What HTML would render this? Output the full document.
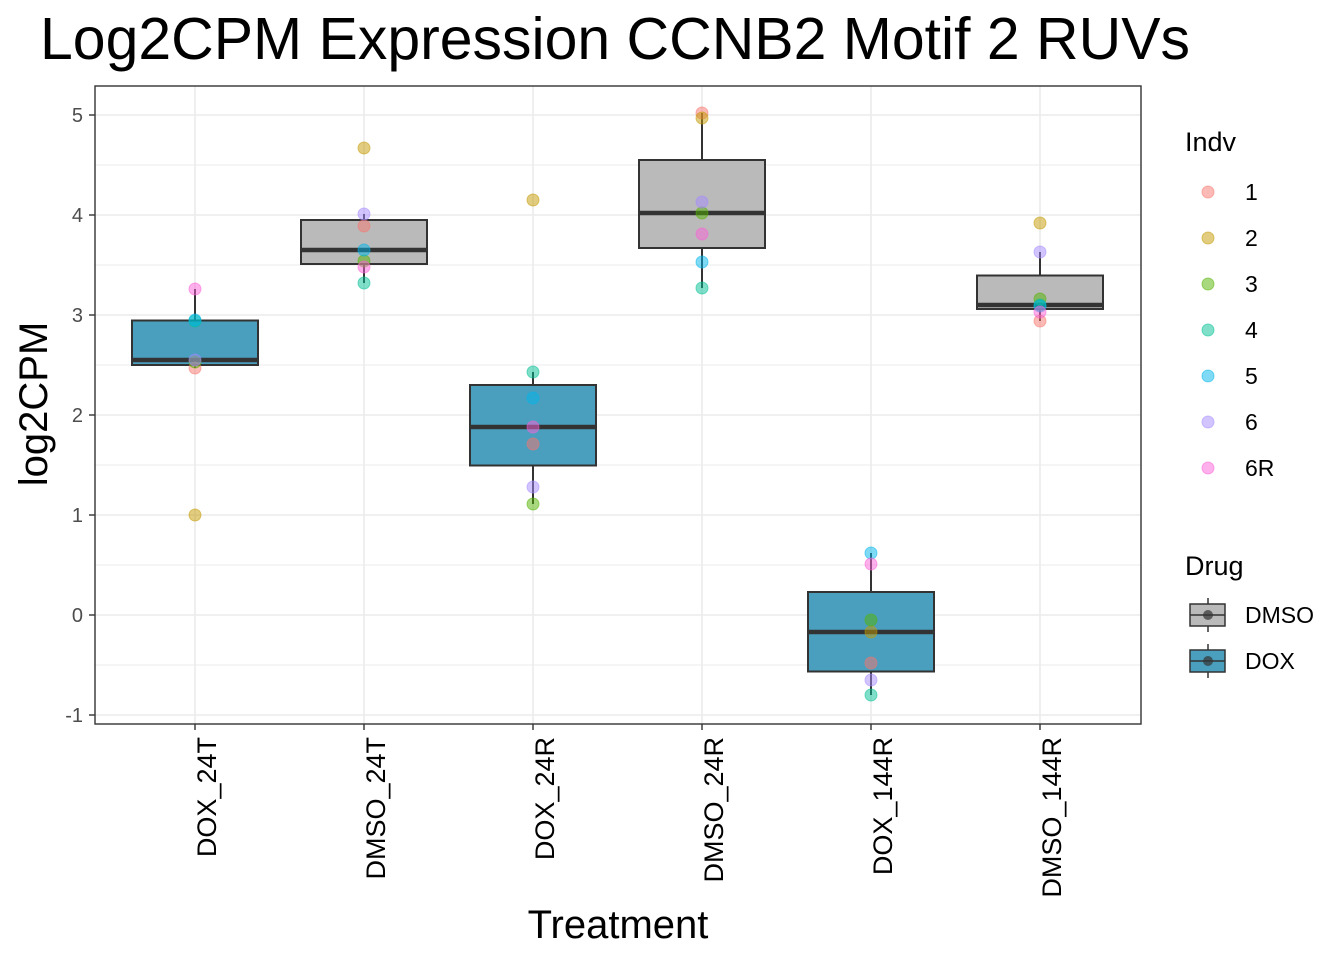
<!DOCTYPE html>
<html><head><meta charset="utf-8"><style>
html,body{margin:0;padding:0;background:#fff;}
svg{display:block;font-family:"Liberation Sans",Arial,sans-serif;}
</style></head><body>
<svg id="chart" width="1344" height="960" viewBox="0 0 1344 960" xmlns="http://www.w3.org/2000/svg">
<text x="40" y="59" font-size="59" textLength="1150" lengthAdjust="spacingAndGlyphs" fill="#000">Log2CPM Expression CCNB2 Motif 2 RUVs</text>
<g id="grid"></g>
<g id="boxes"></g>
<g id="points"></g>
<rect x="95" y="86" width="1046" height="638" fill="none" stroke="#333" stroke-width="1.4"/>
<g id="yaxis"></g>
<g id="xaxis"></g>
<text transform="translate(47,404) rotate(-90)" text-anchor="middle" font-size="40" fill="#000">log2CPM</text>
<text x="618" y="938" text-anchor="middle" font-size="40" fill="#000">Treatment</text>
<g id="legend"></g>
</svg>
<script>
const categories = ["DOX_24T","DMSO_24T","DOX_24R","DMSO_24R","DOX_144R","DMSO_144R"];
const drugs = ["DOX","DMSO","DOX","DMSO","DOX","DMSO"];
const indvs = ["1","2","3","4","5","6","6R"];
const vals_DOX_24T  = [2.47, 1.00, 2.53, 2.94, 2.95, 2.55, 3.26];
const vals_DMSO_24T = [3.89, 4.67, 3.54, 3.32, 3.65, 4.01, 3.48];
const vals_DOX_24R  = [1.71, 4.15, 1.11, 2.43, 2.17, 1.28, 1.88];
const vals_DMSO_24R = [5.02, 4.97, 4.02, 3.27, 3.53, 4.13, 3.81];
const vals_DOX_144R = [-0.48, -0.17, -0.05, -0.80, 0.62, -0.65, 0.51];
const vals_DMSO_144R= [2.94, 3.92, 3.16, 3.10, 3.09, 3.63, 3.03];
const seriesVals = [vals_DOX_24T, vals_DMSO_24T, vals_DOX_24R, vals_DMSO_24R, vals_DOX_144R, vals_DMSO_144R];
const yTicks = [-1,0,1,2,3,4,5];
const indvColors = ["#F8766D","#C49A00","#53B400","#00C094","#00B6EB","#A58AFF","#FB61D7"];
const drugFill = {DMSO:"#BABABA", DOX:"#4A9FBF"};

const NS="http://www.w3.org/2000/svg";
function el(tag, attrs, parent){const e=document.createElementNS(NS,tag);for(const k in attrs)e.setAttribute(k,attrs[k]);parent.appendChild(e);return e;}
const X0=95, X1=1141;
function xs(i){return 195 + i*169;}
function ys(v){return 615 - v*100;}
const bw=126;

const grid=document.getElementById('grid');
for(let v=-1; v<=5; v+=0.5){
  const g=el('line',{x1:X0,x2:X1,y1:ys(v),y2:ys(v),stroke:'#ebebeb','stroke-width':Number.isInteger(v)?1.6:0.9},grid);
  
  
}
categories.forEach((c,i)=>{
  const g=el('line',{x1:xs(i),x2:xs(i),y1:86,y2:724,stroke:'#ebebeb','stroke-width':1.6},grid);
  
  
});

function quant(s,p){const h=(s.length-1)*p,lo=Math.floor(h),hi=Math.ceil(h);return s[lo]+(s[hi]-s[lo])*(h-lo);}
const boxes=document.getElementById('boxes');
seriesVals.forEach((vals,i)=>{
  const s=[...vals].sort((a,b)=>a-b);
  const q1=quant(s,0.25), med=quant(s,0.5), q3=quant(s,0.75), iqr=q3-q1;
  const lo=Math.min(...s.filter(v=>v>=q1-1.5*iqr)), hi=Math.max(...s.filter(v=>v<=q3+1.5*iqr));
  const g=el('g',{},boxes);
  
  
  el('line',{x1:xs(i),x2:xs(i),y1:ys(hi),y2:ys(q3),stroke:'#333','stroke-width':2},g);
  el('line',{x1:xs(i),x2:xs(i),y1:ys(q1),y2:ys(lo),stroke:'#333','stroke-width':2},g);
  el('rect',{x:xs(i)-bw/2,y:ys(q3),width:bw,height:ys(q1)-ys(q3),fill:drugFill[drugs[i]],stroke:'#333','stroke-width':2},g);
  el('line',{x1:xs(i)-bw/2,x2:xs(i)+bw/2,y1:ys(med),y2:ys(med),stroke:'#333','stroke-width':4.5},g);
});

const pts=document.getElementById('points');
seriesVals.forEach((vals,i)=>{
  vals.forEach((v,j)=>{
    const c=el('circle',{cx:xs(i),cy:ys(v),r:6,fill:indvColors[j],'fill-opacity':0.5,stroke:indvColors[j],'stroke-opacity':0.5},pts);
    
    
  });
});

const ya=document.getElementById('yaxis');
yTicks.forEach(t=>{
  const tk=el('line',{x1:89,x2:95,y1:ys(t),y2:ys(t),stroke:'#333','stroke-width':1.4},ya);
  
  
  const tx=el('text',{x:83,y:ys(t)+7,'text-anchor':'end','font-size':20,fill:'#4d4d4d'},ya);
  tx.textContent=t;
  
  
});
const xa=document.getElementById('xaxis');
categories.forEach((c,i)=>{
  const tk=el('line',{x1:xs(i),x2:xs(i),y1:724,y2:730,stroke:'#333','stroke-width':1.4},xa);
  
  
  const tx=el('text',{transform:`translate(${xs(i)+21},737) rotate(-90)`,'text-anchor':'end','font-size':27,fill:'#000'},xa);
  tx.textContent=c;
  
  
});

const lg=document.getElementById('legend');
const t1=el('text',{x:1185,y:151,'font-size':27,fill:'#000'},lg);
t1.textContent='Indv';


indvs.forEach((n,j)=>{
  const y=192+j*46;
  const g=el('g',{},lg);
  
  
  el('circle',{cx:1208,cy:y,r:6,fill:indvColors[j],'fill-opacity':0.5,stroke:indvColors[j],'stroke-opacity':0.5},g);
  const t=el('text',{x:1245,y:y+8,'font-size':23,fill:'#000'},g);
  t.textContent=n;
});
const t2=el('text',{x:1185,y:575,'font-size':27,fill:'#000'},lg);
t2.textContent='Drug';


["DMSO","DOX"].forEach((d,k)=>{
  const y=615+k*46;
  const g=el('g',{},lg);
  
  
  el('line',{x1:1208,x2:1208,y1:y-17,y2:y+17,stroke:'#333','stroke-width':1.5},g);
  el('rect',{x:1190,y:y-11,width:35,height:22,fill:drugFill[d],stroke:'#333','stroke-width':1.5},g);
  el('line',{x1:1190,x2:1225,y1:y,y2:y,stroke:'#333','stroke-width':1.5},g);
  el('circle',{cx:1208,cy:y,r:5,fill:'#333','fill-opacity':0.7},g);
  const t=el('text',{x:1245,y:y+8,'font-size':23,fill:'#000'},g);
  t.textContent=d;
});
</script>
</body></html>
